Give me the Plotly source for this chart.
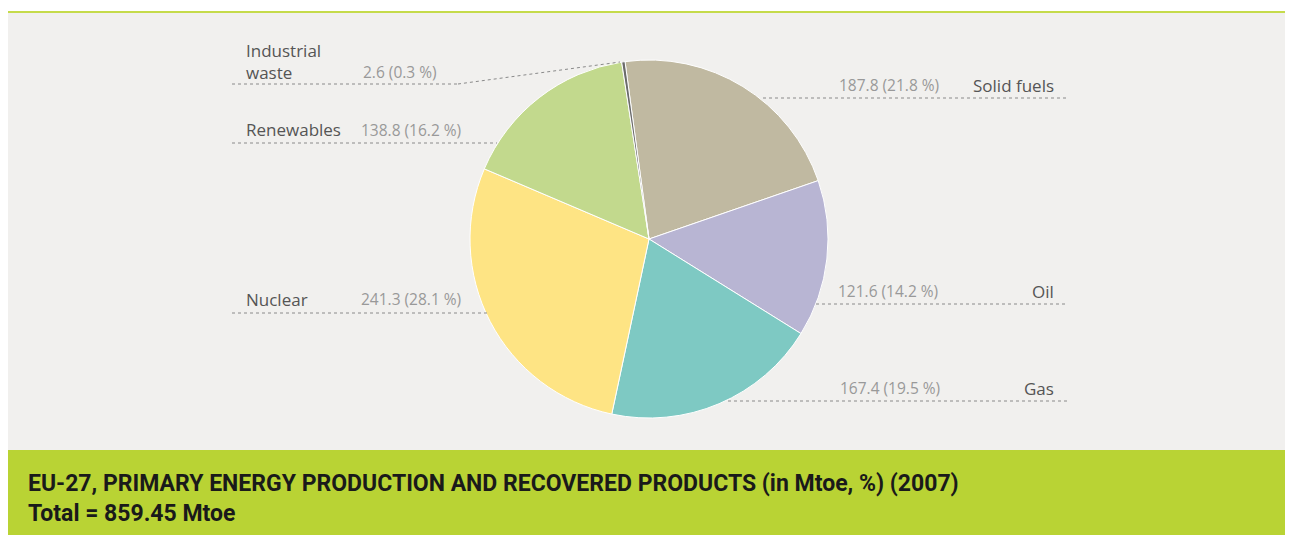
import plotly.graph_objects as go

# data
sources = ["Solid fuels", "Oil", "Gas", "Nuclear", "Renewables", "Industrial waste"]
mtoe = [187.8, 121.6, 167.4, 241.3, 138.8, 2.6]
shares = [21.8, 14.2, 19.5, 28.1, 16.2, 0.3]
colors = ["#c0b9a1", "#b8b5d3", "#7ec9c3", "#fee484", "#c2d98d", "#6b6b6b"]

# the page puts the figure 8px in from the top-left corner
OFF = 8
W, H = 1285, 527


def px(x):
    return (x - OFF) / W


def py(y):
    return 1 - (y - OFF) / H


fig = go.Figure()

fig.add_trace(go.Pie(
    labels=sources,
    values=mtoe,
    sort=False,
    direction="clockwise",
    rotation=-7.7,
    marker=dict(colors=colors, line=dict(color="white", width=1)),
    textinfo="none",
    hoverinfo="label+value+percent",
    showlegend=False,
    domain=dict(x=[px(470), px(828)], y=[py(418), py(60)]),
))

shapes = [
    # grey panel, green top rule, green caption band
    dict(type="rect", xref="paper", yref="paper", x0=0, x1=1, y0=py(450), y1=py(13),
         fillcolor="#f1f0ee", line=dict(width=0), layer="below"),
    dict(type="line", xref="paper", yref="paper", x0=0, x1=1, y0=py(12), y1=py(12),
         line=dict(color="#c5db4a", width=2)),
    dict(type="rect", xref="paper", yref="paper", x0=0, x1=1, y0=0, y1=py(450),
         fillcolor="#b9d334", line=dict(width=0), layer="below"),
]

dot = dict(color="#8a8a8a", width=1, dash="dot")
# leader lines
leaders = [
    [(232, 84), (458, 84), (620, 62)],
    [(232, 143), (497, 143)],
    [(232, 313), (487, 313)],
    [(763, 98), (1068, 98)],
    [(816, 304), (1068, 304)],
    [(728, 401), (1068, 401)],
]
for pts in leaders:
    for (xa, ya), (xb, yb) in zip(pts[:-1], pts[1:]):
        shapes.append(dict(type="line", xref="paper", yref="paper",
                           x0=px(xa), y0=py(ya), x1=px(xb), y1=py(yb), line=dot))

name_font = dict(family="Open Sans", size=17, color="#555555")
val_font = dict(family="Open Sans", size=15.5, color="#999999")

annotations = []


def label(text, x, y, font, anchor="left"):
    annotations.append(dict(text=text, x=px(x), y=py(y), xref="paper", yref="paper",
                            showarrow=False, xanchor=anchor, yanchor="middle", font=font,
                            align=anchor))


def val(i):
    return f"{mtoe[i]} ({shares[i]} %)"


# left side
label("Industrial<br>waste", 244, 62, name_font)
label(val(5), 361, 72, val_font)
label(sources[4], 244, 130, name_font)
label(val(4), 359, 130, val_font)
label(sources[3], 244, 299, name_font)
label(val(3), 359, 299, val_font)
# right side
label(val(0), 941, 85, val_font, "right")
label(sources[0], 1056, 85, name_font, "right")
label(val(1), 940, 291, val_font, "right")
label(sources[1], 1056, 291, name_font, "right")
label(val(2), 942, 388, val_font, "right")
label(sources[2], 1056, 388, name_font, "right")

# caption
annotations.append(dict(
    text="EU-27, PRIMARY ENERGY PRODUCTION AND RECOVERED PRODUCTS (in Mtoe, %) (2007)<br>Total = 859.45 Mtoe",
    x=px(26), y=py(498), xref="paper", yref="paper", showarrow=False,
    xanchor="left", yanchor="middle", align="left",
    font=dict(family="Roboto", size=23, color="#1a1a1a", weight="bold"),
))

fig.update_layout(
    width=W, height=H,
    margin=dict(l=0, r=0, t=0, b=0),
    paper_bgcolor="white",
    plot_bgcolor="white",
    shapes=shapes,
    annotations=annotations,
)

fig.write_html("out.html")
